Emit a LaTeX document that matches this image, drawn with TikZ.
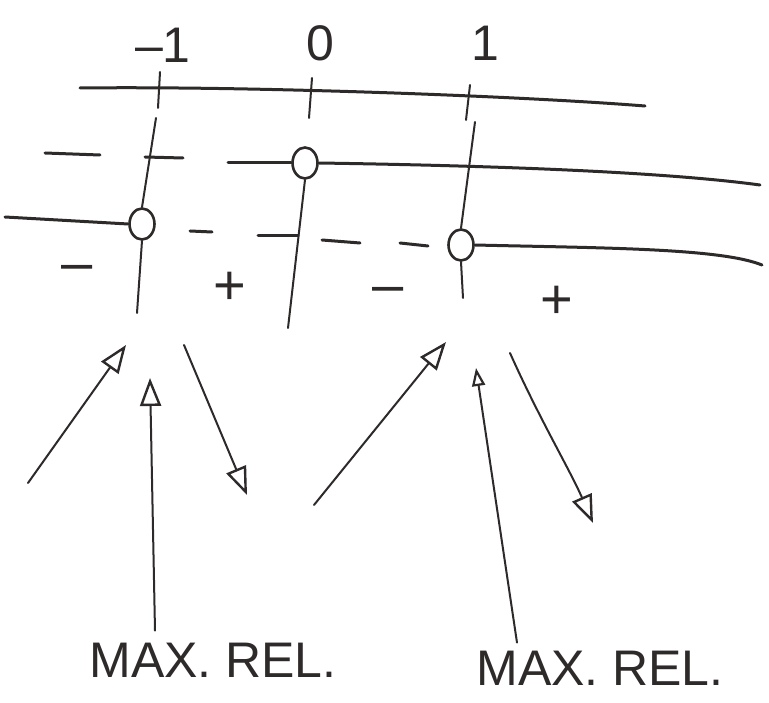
\documentclass[tikz,border=0pt]{standalone}
\usepackage{fontspec}
\setmainfont{Liberation Sans}
\usetikzlibrary{arrows.meta,shapes.geometric}
\definecolor{ink}{HTML}{2E2A2A}
\begin{document}
\begin{tikzpicture}[x=1pt,y=-1pt,line cap=round,line join=round,
  thick ink/.style={draw=ink,line width=3pt},
  thin ink/.style={draw=ink,line width=2pt},
  lab/.style={text=ink,font=\fontsize{50}{54}\selectfont,inner sep=0pt},
  sgn/.style={text=ink,font=\fontsize{56}{60}\selectfont,inner sep=0pt},
  zero/.style={ellipse,draw=ink,line width=2.6pt,minimum width=25pt,minimum height=31pt,inner sep=0pt},
  harrow/.style={thin ink,-{Triangle[open,length=28pt,width=21pt,line width=2.4pt]}},
  sarrow/.style={thin ink,-{Triangle[open,length=18pt,width=13pt,line width=2.2pt]}}]
\useasboundingbox (0,0) rectangle (769,703);
% value labels
\node[lab] (lm1) at (163,45) {–1};
\node[lab] (l0)  at (320,43) {0};
\node[lab] (l1)  at (485,43) {1};
% axis
\coordinate (axL) at (80,88);
\coordinate (axR) at (645,106);
\draw[thick ink] (axL) .. controls (250,86) and (520,96) .. (axR);
\draw[thin ink] (160,72) -- (158,108);
\draw[thin ink] (312,78) -- (309,118);
\draw[thin ink] (470,85) -- (466,120);
% zeros
\node[zero] (cm1) at (142,224) {};
\node[zero] (c0)  at (305,163) {};
\node[zero] (c1)  at (461,245) {};
% vertical lines
\draw[thin ink] (156,118) -- (cm1.north);
\draw[thin ink] (cm1.south) -- (137,313);
\draw[thin ink] (c0.south) -- (288,328);
\draw[thin ink] (475,122) -- (c1.north);
\draw[thin ink] (c1.south) -- (463,298);
% row 1
\draw[thick ink] (45,153) -- (100,155);
\draw[thick ink] (145,157) -- (183,158);
\draw[thick ink] (228,163) -- (c0.west);
\draw[thick ink] (c0.east) .. controls (450,165) and (650,170) .. (760,185);
% row 2
\draw[thick ink] (5,217) -- (cm1.west);
\draw[thick ink] (190,231) -- (212,232);
\draw[thick ink] (258,236) -- (298,236);
\draw[thick ink] (322,240) -- (360,243);
\draw[thick ink] (400,243) -- (428,246);
\draw[thick ink] (c1.east) .. controls (600,248) and (720,248) .. (762,265);
% row 3 signs
\node[sgn] (s1) at (77,273) {–};
\node[sgn] (s2) at (230,288) {+};
\node[sgn] (s3) at (388,295) {–};
\node[sgn] (s4) at (557,302) {+};
% labels
\node[lab] (m1) at (213,660) {MAX. REL.};
\node[lab] (m2) at (600,668) {MAX. REL.};
% arrows
\coordinate (a1s) at (28,483);  \coordinate (a1e) at (126,345);
\coordinate (a2e) at (150,378);
\coordinate (a3s) at (184,345); \coordinate (a3e) at (247,495);
\coordinate (a4s) at (314,505); \coordinate (a4e) at (446,342);
\coordinate (a5e) at (476,368);
\coordinate (a6s) at (510,353); \coordinate (a6e) at (593,523);
\draw[harrow] (a1s) -- (a1e);
\draw[harrow] (m1.north -| 155,0) ++(0,-12) coordinate (a2s) -- (a2e);
\draw[harrow] (a3s) -- (a3e);
\draw[harrow] (a4s) -- (a4e);
\draw[sarrow] (m2.north -| 517,0) ++(0,-8) coordinate (a5s) -- (a5e);
\draw[harrow] (a6s) .. controls (540,420) and (570,470) .. (a6e);
\end{tikzpicture}
\end{document}
